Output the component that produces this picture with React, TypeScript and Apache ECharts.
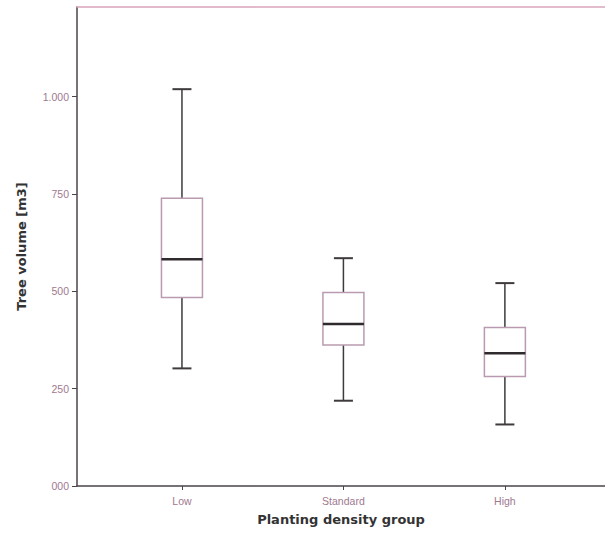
import React, { useEffect, useRef } from "react";
import * as echarts from "echarts";

const categories = ["Low", "Standard", "High"];
const positions = [1, 2, 3];
// [min, Q1, median, Q3, max] in m3
const lowBox = [0.302, 0.484, 0.582, 0.739, 1.019];
const standardBox = [0.219, 0.362, 0.416, 0.497, 0.585];
const highBox = [0.158, 0.281, 0.341, 0.407, 0.521];
const boxes = [lowBox, standardBox, highBox];
const yTicks = [0, 0.25, 0.5, 0.75, 1];

const fmtY = (v: number) => {
  if (v >= 1) return v.toFixed(3);
  return v.toFixed(3).slice(2);
};

export default function App() {
  const ref = useRef<HTMLDivElement>(null);
  useEffect(() => {
    if (!ref.current) return;
    const chart = echarts.init(ref.current, null, { renderer: "svg" });
    const data = boxes.map((b, i) => [positions[i], ...b]);
    const axisColor = "#4a4448";
    const labelColor = "#a0788f";
    chart.setOption({
      animation: false,
      backgroundColor: "#ffffff",
      grid: { left: 77, right: 0, top: 7, bottom: 51, show: false },
      xAxis: [
        {
          type: "value",
          min: 0.35,
          max: 3.62,
          splitLine: { show: false },
          axisLine: { show: true, lineStyle: { color: axisColor, width: 1.5 } },
          axisTick: {
            show: true,
            customValues: positions,
            length: 4,
            lineStyle: { color: axisColor, width: 1 },
          },
          axisLabel: {
            customValues: positions,
            formatter: (v: number) => categories[Math.round(v) - 1] ?? "",
            color: labelColor,
            fontFamily: "Liberation Sans",
            fontSize: 10.5,
            margin: 9,
          },
          name: "Planting density group",
          nameLocation: "middle",
          nameGap: 27,
          nameTextStyle: {
            fontFamily: "DejaVu Sans",
            fontWeight: "bold",
            fontSize: 13,
            color: "#333333",
          },
        },
        {
          type: "value",
          position: "top",
          min: 0.35,
          max: 3.62,
          splitLine: { show: false },
          axisLine: { show: true, lineStyle: { color: "#d8a4bc", width: 1.5 } },
          axisTick: { show: false },
          axisLabel: { show: false },
        },
      ],
      yAxis: {
        type: "value",
        min: 0,
        max: 1.23,
        splitLine: { show: false },
        axisLine: { show: true, lineStyle: { color: axisColor, width: 1.5 } },
        axisTick: {
          show: true,
          customValues: yTicks,
          length: 5,
          lineStyle: { color: axisColor, width: 1 },
        },
        axisLabel: {
          customValues: yTicks,
          formatter: (v: number) => fmtY(v),
          color: labelColor,
          fontFamily: "Liberation Sans",
          fontSize: 10.5,
          margin: 8,
        },
        name: "Tree volume [m3]",
        nameLocation: "middle",
        nameGap: 49,
        nameTextStyle: {
          fontFamily: "DejaVu Sans",
          fontWeight: "bold",
          fontSize: 13,
          color: "#333333",
        },
      },
      series: [
        {
          type: "custom",
          xAxisIndex: 0,
          encode: { x: 0, y: [1, 2, 3, 4, 5] },
          data,
          renderItem: (params: any, api: any) => {
            const x = api.value(0);
            const pMin = api.coord([x, api.value(1)]);
            const pQ1 = api.coord([x, api.value(2)]);
            const pMed = api.coord([x, api.value(3)]);
            const pQ3 = api.coord([x, api.value(4)]);
            const pMax = api.coord([x, api.value(5)]);
            const cx = pMin[0];
            const hw = 20.5;
            const cw = 9.5;
            const dark = "#3e3a3d";
            return {
              type: "group",
              children: [
                { type: "line", shape: { x1: cx, y1: pMin[1], x2: cx, y2: pQ1[1] }, style: { stroke: dark, lineWidth: 1.5 } },
                { type: "line", shape: { x1: cx, y1: pQ3[1], x2: cx, y2: pMax[1] }, style: { stroke: dark, lineWidth: 1.5 } },
                { type: "line", shape: { x1: cx - cw, y1: pMin[1], x2: cx + cw, y2: pMin[1] }, style: { stroke: dark, lineWidth: 2 } },
                { type: "line", shape: { x1: cx - cw, y1: pMax[1], x2: cx + cw, y2: pMax[1] }, style: { stroke: dark, lineWidth: 2 } },
                {
                  type: "rect",
                  shape: { x: cx - hw, y: pQ3[1], width: hw * 2, height: pQ1[1] - pQ3[1] },
                  style: { fill: "#ffffff", stroke: "#b99ab0", lineWidth: 1.5 },
                },
                { type: "line", shape: { x1: cx - hw, y1: pMed[1], x2: cx + hw, y2: pMed[1] }, style: { stroke: "#2e2a2d", lineWidth: 2.5 } },
              ],
            };
          },
        },
      ],
    });
    return () => chart.dispose();
  }, []);
  return (
    <div
      ref={ref}
      style={{ position: "fixed", left: 0, top: 0, width: 605, height: 537 }}
    />
  );
}
